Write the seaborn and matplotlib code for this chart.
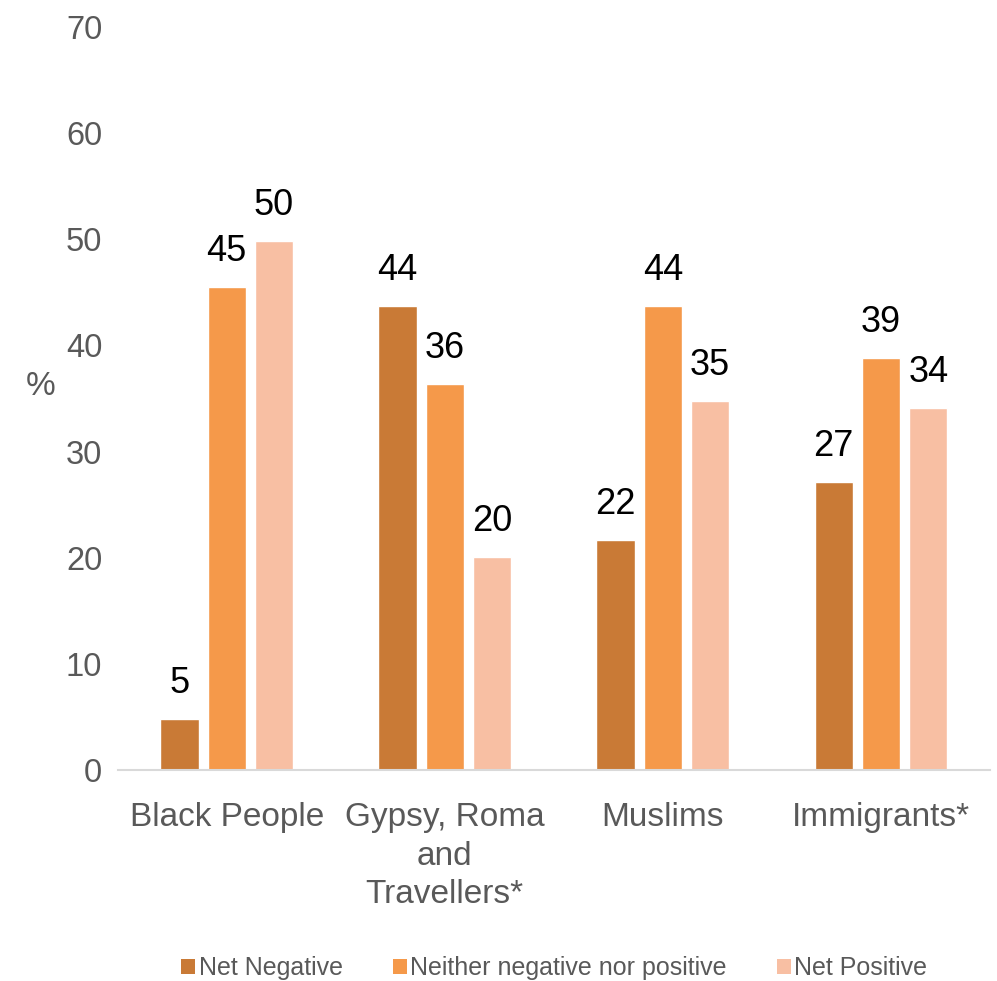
import matplotlib
matplotlib.use("Agg")
import matplotlib.pyplot as plt
import seaborn as sns
import pandas as pd
from matplotlib.patches import Patch

categories = ["Black People", "Gypsy, Roma\nand\nTravellers*", "Muslims", "Immigrants*"]
series = ["Net Negative", "Neither negative nor positive", "Net Positive"]
net_negative = [4.8, 43.7, 21.7, 27.1]
neither = [45.5, 36.4, 43.7, 38.8]
net_positive = [49.8, 20.1, 34.8, 34.1]
labels_negative = [5, 44, 22, 27]
labels_neither = [45, 36, 44, 39]
labels_positive = [50, 20, 35, 34]
colors = ["#C97A36", "#F5994A", "#F8BFA3"]

rows = []
for s, vals in zip(series, [net_negative, neither, net_positive]):
    for c, v in zip(categories, vals):
        rows.append({"cat": c, "series": s, "val": v})
df = pd.DataFrame(rows)

sns.set_style("white")
plt.rcParams["font.family"] = ["Liberation Sans", "DejaVu Sans"]

fig = plt.figure(figsize=(9.97, 9.81), dpi=100)
ax = fig.add_axes([0.118, 0.215, 0.875, 0.7575])
sns.barplot(data=df, x="cat", y="val", hue="series", order=categories,
            hue_order=series, palette=colors, width=0.65, gap=0.19,
            saturation=1, legend=False, ax=ax)

for cont, labs in zip(ax.containers, [labels_negative, labels_neither, labels_positive]):
    ax.bar_label(cont, labels=[str(l) for l in labs], padding=13, fontsize=26, color="black")

ax.set_ylim(0, 70)
ax.set_xlim(-0.5, 3.5)
ax.set_yticks(range(0, 71, 10))
ax.tick_params(axis="y", labelsize=23.5, labelcolor="#595959", length=0, pad=11)
ax.tick_params(axis="x", labelsize=24, labelcolor="#595959", length=0, pad=23)
for t in ax.get_xticklabels():
    t.set_linespacing(1.32)
ax.set_xlabel("")
ax.set_ylabel("%", rotation=0, fontsize=24, color="#595959")
ax.yaxis.set_label_coords(-0.088, 0.495)
for sp in ["top", "right", "left"]:
    ax.spines[sp].set_visible(False)
ax.spines["bottom"].set_color("#D9D9D9")
ax.spines["bottom"].set_linewidth(1.5)

handles = [Patch(facecolor=c, edgecolor="none") for c in colors]
fig.legend(handles, series, loc="center", bbox_to_anchor=(0.556, 0.013), ncol=3,
           frameon=False, fontsize=18, handlelength=0.55, handleheight=0.55,
           handletextpad=0.15, columnspacing=2.0, labelcolor="#595959")

fig.savefig("out.png", dpi=100)
